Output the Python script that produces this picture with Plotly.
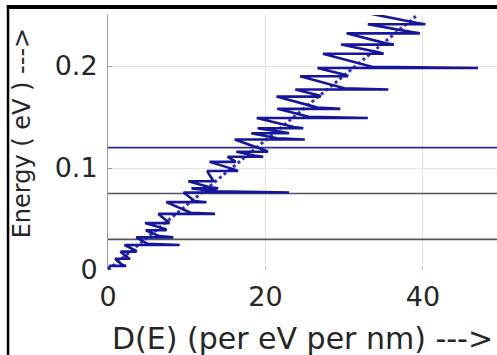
import plotly.graph_objects as go

# Sawtooth density of states: spike energies (eV) and D values (per eV per nm)
spike_E = [0.004, 0.011, 0.018, 0.0245, 0.032, 0.039, 0.046, 0.055, 0.0665, 0.076,
           0.080, 0.087, 0.097, 0.106, 0.111, 0.116, 0.128, 0.134, 0.139, 0.149,
           0.158, 0.170, 0.177, 0.190, 0.198, 0.212, 0.221, 0.232, 0.241]
spike_left = [0.3, 0.9, 1.6, 2.1, 3.6, 4.8, 4.7, 6.4, 7.4, 9.6,
              10.6, 10.2, 12.6, 12.9, 15.2, 16.3, 16.1, 18.2, 19.0, 18.9,
              21.5, 21.4, 23.8, 24.4, 26.6, 27.3, 29.6, 30.3, 33.0]
spike_right = [2.3, 2.8, 3.6, 9.1, 8.3, 7.4, 7.8, 13.6, 12.5, 23.0,
               14.0, 13.5, 16.5, 16.2, 19.7, 20.3, 25.0, 23.0, 24.8, 33.0,
               29.5, 27.0, 35.6, 30.5, 47.0, 35.0, 36.3, 39.6, 40.3]
knee_D = [1.8, 2.5, 3.5, 5.0, 6.5, 7.3, 7.6, 10.5, 11.0, 13.8,
          12.9, 13.3, 16.2, 16.0, 18.6, 20.0, 21.5, 22.2, 23.6, 25.5,
          26.6, 26.8, 30.0, 30.2, 33.5, 34.5, 35.3, 38.6, 39.3]
knee_E = [0.0052, 0.0122, 0.0192, 0.0257, 0.0332, 0.0402, 0.0472, 0.0562, 0.0677, 0.0772,
          0.0812, 0.0882, 0.0982, 0.1072, 0.1122, 0.1172, 0.1292, 0.1352, 0.1402, 0.1502,
          0.1592, 0.1712, 0.1782, 0.1912, 0.1992, 0.2132, 0.2222, 0.2332, 0.2422]
start_point = (0.0, 0.001)
end_point = (33.5, 0.251)

# Bulk (continuum) approximation line
bulk_D = [0.0, 39.3]
bulk_E = [0.0, 0.25]

# Horizontal reference energy levels
level_E = [0.03, 0.075, 0.12]
level_colors = ["#55555f", "#55555f", "#2e2e86"]

x_ticks = [0, 20, 40]
y_ticks = [0, 0.1, 0.2]
y_tick_text = ["0", "0.1", "0.2"]

curve_D = [start_point[0]]
curve_E = [start_point[1]]
for e, l, r, kd, ke in zip(spike_E, spike_left, spike_right, knee_D, knee_E):
    curve_D += [l, r, kd]
    curve_E += [e, e, ke]
curve_D.append(end_point[0])
curve_E.append(end_point[1])

fig = go.Figure()
for lv, c in zip(level_E, level_colors):
    fig.add_trace(go.Scatter(x=[0, 60], y=[lv, lv], mode="lines",
                             line=dict(color=c, width=1.6), showlegend=False, hoverinfo="skip"))
fig.add_trace(go.Scatter(x=bulk_D, y=bulk_E, mode="lines",
                         line=dict(color="#3030d0", width=3, dash="dot"), showlegend=False))
fig.add_trace(go.Scatter(x=curve_D, y=curve_E, mode="lines",
                         line=dict(color="#16169a", width=2.6), showlegend=False))

font_family = "DejaVu Sans"
fig.update_layout(
    width=497, height=355,
    margin=dict(l=108, r=0, t=15, b=85),
    paper_bgcolor="white", plot_bgcolor="white",
    font=dict(family=font_family, color="#262626"),
    xaxis=dict(range=[0, 49.4], tickvals=x_ticks, showgrid=True, gridcolor="#e4e4e4",
               gridwidth=1, zeroline=False, showline=False, ticks="inside", ticklen=3,
               tickcolor="#bbbbbb", automargin=False, ticklabelstandoff=8,
               tickfont=dict(size=27, family=font_family, color="#262626")),
    yaxis=dict(range=[0, 0.25], tickvals=y_ticks, ticktext=y_tick_text, showgrid=True,
               gridcolor="#e4e4e4", gridwidth=1, zeroline=False, showline=True,
               linecolor="#9a9a9a", linewidth=1, ticks="inside", ticklen=4, tickcolor="#9a9a9a",
               automargin=False, ticklabelstandoff=4,
               tickfont=dict(size=27, family=font_family, color="#262626")),
    annotations=[
        dict(text="D(E) (per eV per nm) --->", xref="paper", yref="paper",
             x=0.5, y=-0.267, xanchor="center", yanchor="middle", showarrow=False,
             font=dict(size=30, family=font_family, color="#262626")),
        dict(text="Energy ( eV ) --->", xref="paper", yref="paper",
             x=-0.221, y=0.536, xanchor="center", yanchor="middle", showarrow=False,
             textangle=-90, font=dict(size=24, family=font_family, color="#262626")),
    ],
    shapes=[
        dict(type="line", xref="paper", yref="paper", x0=-0.26, x1=1.02, y0=1.031, y1=1.031,
             line=dict(color="black", width=4)),
        dict(type="line", xref="paper", yref="paper", x0=-0.257, x1=-0.257, y0=1.039, y1=-0.35,
             line=dict(color="black", width=2.5)),
    ],
)
fig.write_html("out.html", config={"displayModeBar": False},
               post_script="document.body.style.margin='0px';")
